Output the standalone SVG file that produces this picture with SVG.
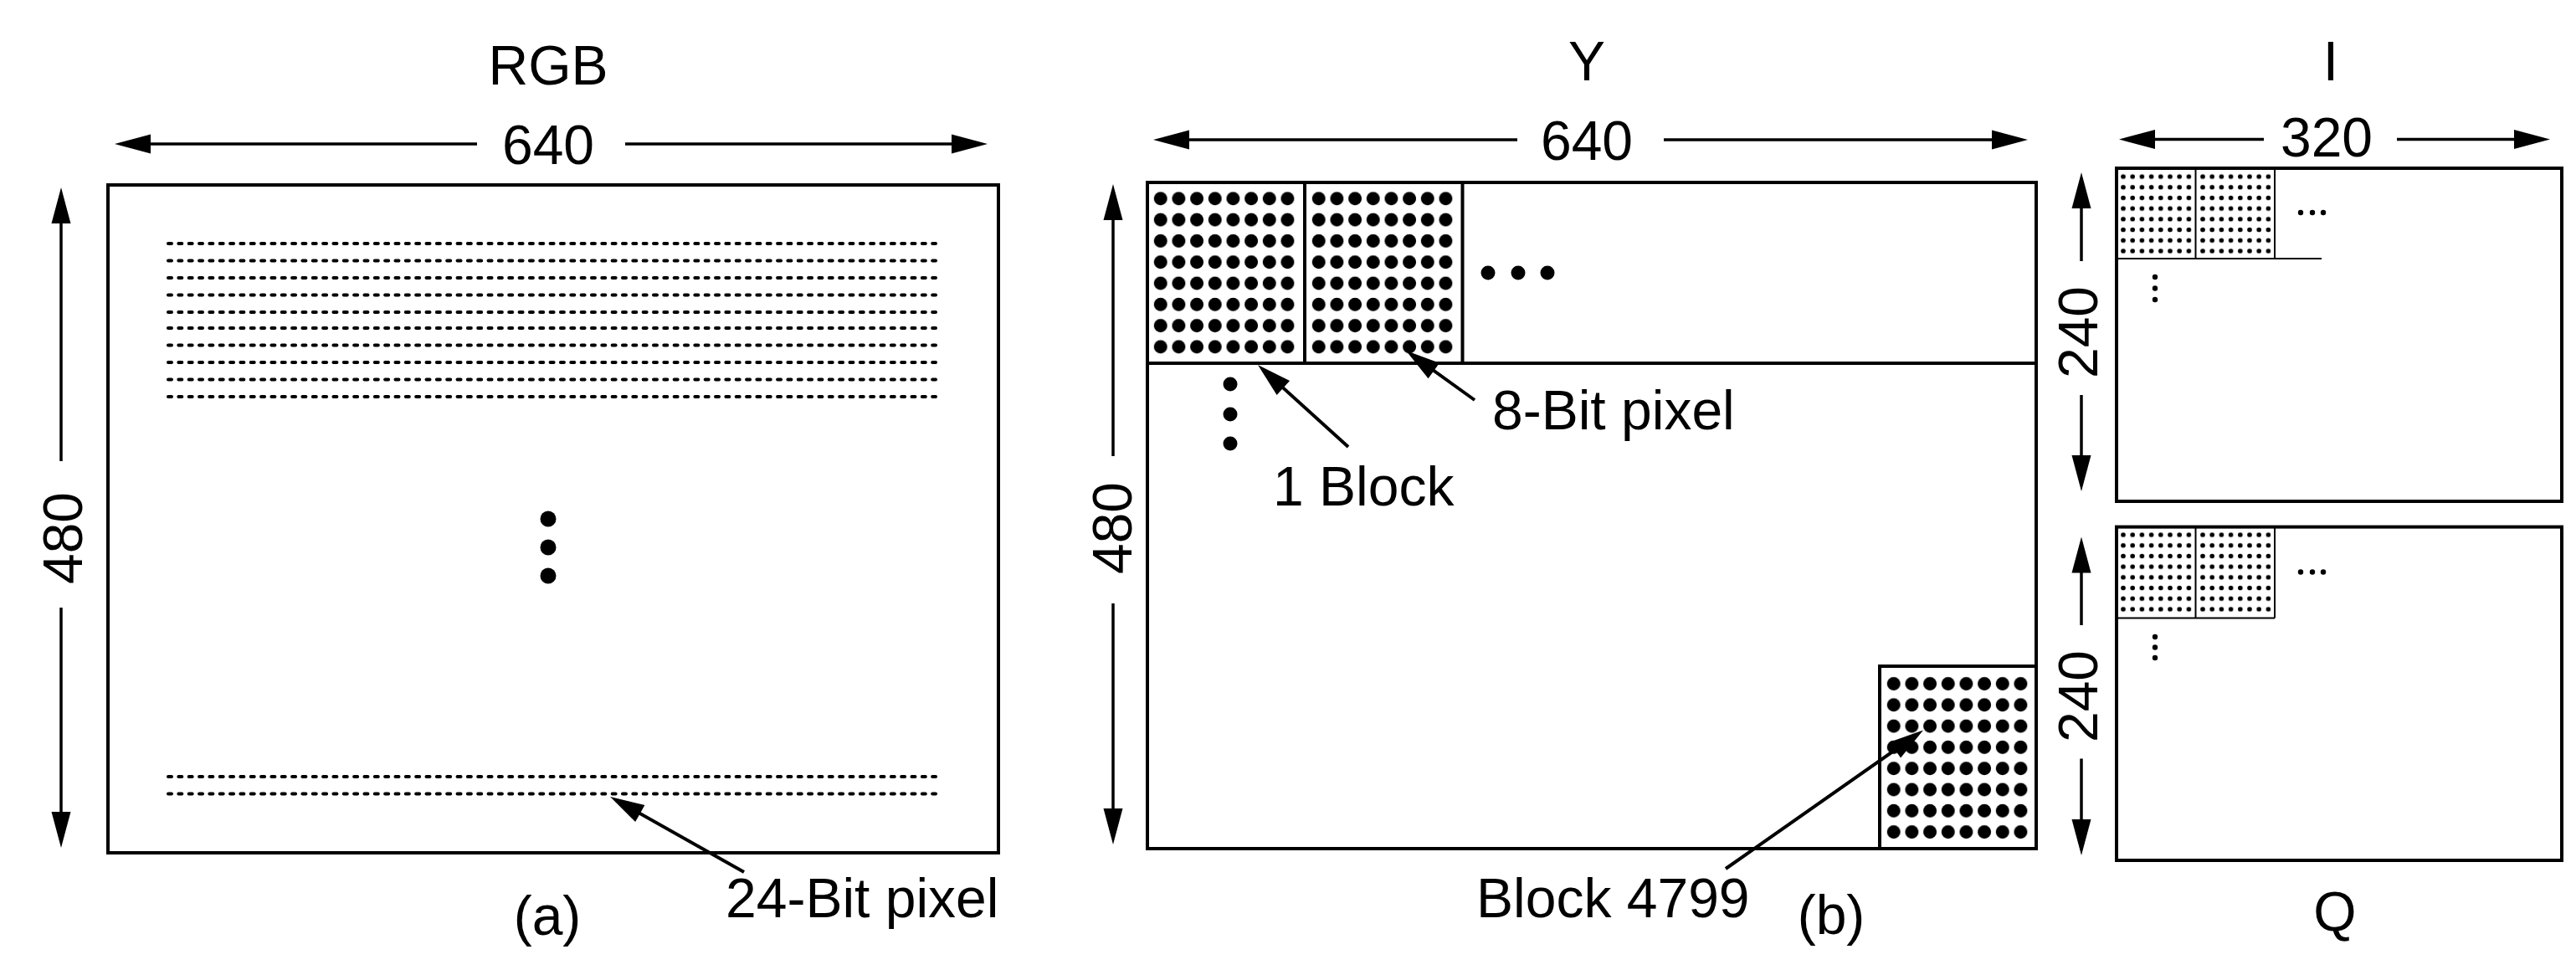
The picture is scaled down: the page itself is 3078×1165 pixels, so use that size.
<svg xmlns="http://www.w3.org/2000/svg" xmlns:xlink="http://www.w3.org/1999/xlink" width="3078" height="1165" viewBox="0 0 3078 1165">
<style>
text{font-family:"Liberation Sans",Arial,Helvetica,sans-serif;font-size:66px;fill:#000}
.m{text-anchor:middle}
.box{fill:none;stroke:#000;stroke-width:4}
.thin{fill:none;stroke:#000;stroke-width:4}
.fine{fill:none;stroke:#000;stroke-width:2}
.dim{stroke:#000;stroke-width:3.5;fill:none;marker-end:url(#ah)}
.lead{stroke:#000;stroke-width:4;fill:none;marker-end:url(#ah2)}
.dash{stroke:#000;stroke-width:4;stroke-linecap:round;stroke-dasharray:4 8.34;fill:none}
.dot{fill:#000}
</style>
<defs>
<marker id="ah" markerUnits="userSpaceOnUse" markerWidth="46" markerHeight="26" viewBox="-44 -13 46 26" refX="-8" refY="0" orient="auto">
<path d="M0,0 L-43,-11.5 L-43,11.5 Z" fill="#000"/>
</marker>
<marker id="ah2" markerUnits="userSpaceOnUse" markerWidth="46" markerHeight="26" viewBox="-44 -13 46 26" refX="-8" refY="0" orient="auto">
<path d="M0,0 L-41,-11.5 L-41,11.5 Z" fill="#000"/>
</marker>
<pattern id="bigDots" patternUnits="userSpaceOnUse" x="0" y="0" width="21.67" height="25.3">
<circle cx="10.835" cy="12.65" r="8" fill="#000"/>
</pattern>
<pattern id="smallDots" patternUnits="userSpaceOnUse" x="0" y="0" width="11.2" height="12.7">
<circle cx="5.6" cy="6.35" r="2.8" fill="#000"/>
</pattern>
<g id="bigBlock"><rect x="0" y="0" width="173.36" height="202.4" fill="url(#bigDots)"/></g>
<g id="smallBlock"><rect x="0" y="0" width="89.6" height="101.6" fill="url(#smallDots)"/></g>
</defs>
<rect x="0" y="0" width="3078" height="1165" fill="#fff"/>

<g id="rgb-frame">
<rect class="box" x="129" y="221" width="1064" height="798"/>
<text class="m" x="655" y="101">RGB</text>
<text class="m" x="655" y="196">640</text>
<text class="m" transform="translate(98,643) rotate(-90)">480</text>
<text class="m" x="654" y="1117">(a)</text>
</g>

<g id="rgb-pixels">
<line class="dash" x1="201" y1="291" x2="1118" y2="291"/>
<line class="dash" x1="201" y1="311.5" x2="1118" y2="311.5"/>
<line class="dash" x1="201" y1="332" x2="1118" y2="332"/>
<line class="dash" x1="201" y1="352.5" x2="1118" y2="352.5"/>
<line class="dash" x1="201" y1="373" x2="1118" y2="373"/>
<line class="dash" x1="201" y1="392" x2="1118" y2="392"/>
<line class="dash" x1="201" y1="412.5" x2="1118" y2="412.5"/>
<line class="dash" x1="201" y1="433" x2="1118" y2="433"/>
<line class="dash" x1="201" y1="453.5" x2="1118" y2="453.5"/>
<line class="dash" x1="201" y1="474" x2="1118" y2="474"/>
<circle class="dot" cx="655" cy="620" r="9.5"/>
<circle class="dot" cx="655" cy="654" r="9.5"/>
<circle class="dot" cx="655" cy="688" r="9.5"/>
<line class="dash" x1="201" y1="928" x2="1118" y2="928"/>
<line class="dash" x1="201" y1="948.5" x2="1118" y2="948.5"/>
<text x="867" y="1096">24-Bit pixel</text>
</g>

<g id="y-frame">
<rect class="box" x="1371" y="218" width="1062" height="796"/>
<line class="thin" x1="1371" y1="434" x2="2433" y2="434"/>
<line class="thin" x1="1559" y1="218" x2="1559" y2="434"/>
<line class="thin" x1="1747.5" y1="218" x2="1747.5" y2="434"/>
<polyline class="thin" points="2246,1014 2246,796 2433,796"/>
<use xlink:href="#bigBlock" href="#bigBlock" transform="translate(1375.9,224.65)"/>
<use xlink:href="#bigBlock" href="#bigBlock" transform="translate(1564.9,224.65)"/>
<use xlink:href="#bigBlock" href="#bigBlock" transform="translate(2251.9,804.35)"/>
<circle class="dot" cx="1778" cy="326" r="8.5"/>
<circle class="dot" cx="1814" cy="326" r="8.5"/>
<circle class="dot" cx="1849" cy="326" r="8.5"/>
<circle class="dot" cx="1470" cy="459" r="8.5"/>
<circle class="dot" cx="1470" cy="495" r="8.5"/>
<circle class="dot" cx="1470" cy="530" r="8.5"/>
<text class="m" x="1896" y="96">Y</text>
<text class="m" x="1896" y="191">640</text>
<text class="m" transform="translate(1352,631) rotate(-90)">480</text>
<text x="1521" y="604">1 Block</text>
<text x="1783" y="513">8-Bit pixel</text>
<text x="1764" y="1096">Block 4799</text>
<text class="m" x="2188" y="1116">(b)</text>
</g>

<g id="i-frame">
<rect class="box" x="2529" y="201" width="532" height="398"/>
<line class="fine" x1="2623.5" y1="201" x2="2623.5" y2="309"/>
<line class="fine" x1="2718" y1="201" x2="2718" y2="309"/>
<line class="fine" x1="2529" y1="309" x2="2774" y2="309"/>
<use xlink:href="#smallBlock" href="#smallBlock" transform="translate(2531.4,204.65)"/>
<use xlink:href="#smallBlock" href="#smallBlock" transform="translate(2626.4,204.65)"/>
<circle class="dot" cx="2749" cy="254" r="3.2"/>
<circle class="dot" cx="2763" cy="254" r="3.2"/>
<circle class="dot" cx="2776" cy="254" r="3.2"/>
<circle class="dot" cx="2575" cy="331" r="3.2"/>
<circle class="dot" cx="2575" cy="344.5" r="3.2"/>
<circle class="dot" cx="2575" cy="358" r="3.2"/>
<text class="m" x="2785" y="96">I</text>
<text class="m" x="2780" y="187">320</text>
<text class="m" transform="translate(2506,397) rotate(-90)">240</text>
</g>

<g id="q-frame">
<rect class="box" x="2529" y="629.6" width="532" height="398.4"/>
<line class="fine" x1="2623.5" y1="629.6" x2="2623.5" y2="738.6"/>
<line class="fine" x1="2718" y1="629.6" x2="2718" y2="738.6"/>
<line class="fine" x1="2529" y1="738.6" x2="2718" y2="738.6"/>
<use xlink:href="#smallBlock" href="#smallBlock" transform="translate(2531.4,632.65)"/>
<use xlink:href="#smallBlock" href="#smallBlock" transform="translate(2626.4,632.65)"/>
<circle class="dot" cx="2749" cy="683.5" r="3.2"/>
<circle class="dot" cx="2763" cy="683.5" r="3.2"/>
<circle class="dot" cx="2776" cy="683.5" r="3.2"/>
<circle class="dot" cx="2575" cy="761" r="3.2"/>
<circle class="dot" cx="2575" cy="773.5" r="3.2"/>
<circle class="dot" cx="2575" cy="786" r="3.2"/>
<text class="m" transform="translate(2506,832) rotate(-90)">240</text>
<text class="m" x="2790" y="1112">Q</text>
</g>

<g id="connectors">
<line class="dim" x1="570" y1="172" x2="145" y2="172"/>
<line class="dim" x1="747" y1="172" x2="1172" y2="172"/>
<line class="dim" x1="73" y1="551" x2="73" y2="232"/>
<line class="dim" x1="73" y1="726" x2="73" y2="1005"/>
<line class="dim" x1="1813" y1="167" x2="1386" y2="167"/>
<line class="dim" x1="1988" y1="167" x2="2415" y2="167"/>
<line class="dim" x1="1330" y1="545" x2="1330" y2="228"/>
<line class="dim" x1="1330" y1="721" x2="1330" y2="1001"/>
<line class="dim" x1="2705" y1="166.5" x2="2540" y2="166.5"/>
<line class="dim" x1="2864" y1="166.5" x2="3039" y2="166.5"/>
<line class="dim" x1="2487" y1="312" x2="2487" y2="214"/>
<line class="dim" x1="2487" y1="472" x2="2487" y2="579"/>
<line class="dim" x1="2487" y1="747" x2="2487" y2="649.6"/>
<line class="dim" x1="2487" y1="906.5" x2="2487" y2="1014"/>
<line class="lead" x1="889" y1="1042" x2="736" y2="955.9"/>
<line class="lead" x1="1611" y1="534" x2="1508.9" y2="441.4"/>
<line class="lead" x1="1762" y1="478" x2="1686.5" y2="423.7"/>
<line class="lead" x1="2062" y1="1038" x2="2291.5" y2="877.1"/>
</g>
</svg>
